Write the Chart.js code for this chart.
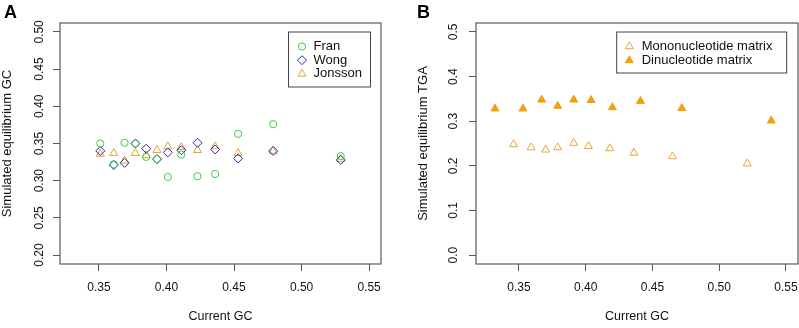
<!DOCTYPE html>
<html>
<head>
<meta charset="utf-8">
<script src="https://cdn.jsdelivr.net/npm/chart.js@4.4.1/dist/chart.umd.min.js"></script>
<style>
  body { margin: 0; background: #fff; }
  .panel { position: absolute; top: 0; height: 328px; }
  #panelA { left: 0; width: 400px; }
  #panelB { left: 400px; width: 399px; }
</style>
</head>
<body>
<div class="panel" id="panelA"><canvas id="chartA"></canvas></div>
<div class="panel" id="panelB"><canvas id="chartB"></canvas></div>
<script>
// Panel A: current vs simulated equilibrium GC
const currentGcA = [0.351, 0.361, 0.369, 0.377, 0.385, 0.393, 0.401, 0.411, 0.423, 0.436, 0.453, 0.479, 0.529];
const franGc    = [0.350, 0.322, 0.351, 0.350, 0.332, 0.329, 0.305, 0.335, 0.306, 0.309, 0.363, 0.376, 0.333];
const wongGc    = [0.340, 0.321, 0.324, 0.350, 0.343, 0.329, 0.338, 0.341, 0.351, 0.342, 0.330, 0.340, 0.328];
const jonssonGc = [0.336, 0.337, 0.327, 0.337, 0.334, 0.341, 0.346, 0.345, 0.341, 0.346, 0.337, 0.340, 0.329];

// Panel B: current GC vs simulated equilibrium TGA
const monoGc  = [0.346, 0.359, 0.370, 0.379, 0.391, 0.402, 0.418, 0.436, 0.465, 0.521];
const monoTga = [0.248, 0.241, 0.236, 0.241, 0.251, 0.244, 0.239, 0.229, 0.221, 0.205];
const diGc    = [0.332, 0.353, 0.367, 0.379, 0.391, 0.404, 0.420, 0.441, 0.472, 0.539];
const diTga   = [0.328, 0.328, 0.348, 0.334, 0.348, 0.347, 0.331, 0.345, 0.329, 0.301];

// tick labels
const xTicksA = [0.35, 0.40, 0.45, 0.50, 0.55];
const yTicksA = [0.20, 0.25, 0.30, 0.35, 0.40, 0.45, 0.50];
const xTicksB = [0.35, 0.40, 0.45, 0.50, 0.55];
const yTicksB = [0.0, 0.1, 0.2, 0.3, 0.4, 0.5];

const FONT = "'Liberation Sans', Arial, Helvetica, sans-serif";
const AXIS_GREY = '#5a5a5a';
Chart.defaults.font.family = FONT;
Chart.defaults.color = '#111';

function pts(xs, ys) {
  return xs.map((x, i) => ({ x: x, y: ys[i] }));
}

// box around plotting region, like R's box()
const frame = {
  id: 'frame',
  afterDraw(chart) {
    const { ctx, chartArea: a } = chart;
    ctx.save();
    ctx.strokeStyle = AXIS_GREY;
    ctx.lineWidth = 1.2;
    ctx.strokeRect(a.left, a.top, a.right - a.left, a.bottom - a.top);
    ctx.restore();
  }
};

// R style legend box in the top right corner
const boxLegend = {
  id: 'boxLegend',
  afterDraw(chart, args, o) {
    const { ctx, chartArea: a } = chart;
    const x0 = a.right - o.right - o.width;
    const y0 = a.top + o.top;
    ctx.save();
    ctx.fillStyle = '#fff';
    ctx.fillRect(x0, y0, o.width, o.height);
    ctx.strokeStyle = '#444';
    ctx.lineWidth = 1;
    ctx.strokeRect(x0, y0, o.width, o.height);
    ctx.font = '13px ' + FONT;
    ctx.textBaseline = 'middle';
    chart.data.datasets.forEach((ds, i) => {
      const y = y0 + o.firstRow + i * o.rowGap;
      ctx.fillStyle = ds.backgroundColor;
      ctx.strokeStyle = ds.borderColor;
      ctx.lineWidth = 1;
      Chart.helpers.drawPoint(ctx, { pointStyle: ds.pointStyle, radius: ds.pointRadius, borderWidth: 1, rotation: 0 }, x0 + o.markerX, y);
      ctx.fillStyle = '#111';
      ctx.fillText(ds.label, x0 + o.textX, y);
    });
    ctx.restore();
  }
};

// panel letter
const panelTag = {
  id: 'panelTag',
  afterDraw(chart, args, o) {
    const ctx = chart.ctx;
    ctx.save();
    ctx.font = 'bold 18px ' + FONT;
    ctx.fillStyle = '#000';
    ctx.textBaseline = 'alphabetic';
    ctx.fillText(o.text, o.x, o.y);
    ctx.restore();
  }
};

function axis(pos, min, max, tickList, digits, title, o) {
  const vertical = pos === 'left';
  return {
    type: 'linear',
    position: pos,
    min: min,
    max: max,
    afterBuildTicks: s => { s.ticks = tickList.map(v => ({ value: v })); },
    afterFit: s => {
      if (vertical) s.width = o.size; else s.height = o.size;
      s.paddingLeft = 0; s.paddingRight = 0; s.paddingTop = 0; s.paddingBottom = 0;
    },
    border: { display: false },
    grid: { drawOnChartArea: false, drawTicks: true, tickLength: 7, color: AXIS_GREY, lineWidth: 1 },
    ticks: {
      autoSkip: false,
      minRotation: vertical ? 90 : 0,
      maxRotation: vertical ? 90 : 0,
      crossAlign: vertical ? 'center' : 'near',
      padding: o.pad,
      color: '#111',
      font: { size: 12 },
      callback: v => v.toFixed(digits)
    },
    title: {
      display: true,
      text: title,
      color: '#111',
      font: { size: o.titleSize },
      padding: o.titlePad
    }
  };
}

new Chart(document.getElementById('chartA'), {
  type: 'scatter',
  data: {
    datasets: [
      { label: 'Fran', data: pts(currentGcA, franGc), pointStyle: 'circle', pointRadius: 3.6,
        borderColor: '#3fcc3f', backgroundColor: 'rgba(0,0,0,0)', borderWidth: 1 },
      { label: 'Wong', data: pts(currentGcA, wongGc), pointStyle: 'rectRot', pointRadius: 4.5,
        borderColor: '#2727b8', backgroundColor: 'rgba(0,0,0,0)', borderWidth: 1 },
      { label: 'Jonsson', data: pts(currentGcA, jonssonGc), pointStyle: 'triangle', pointRadius: 4.6,
        borderColor: '#e8a232', backgroundColor: 'rgba(0,0,0,0)', borderWidth: 1 }
    ]
  },
  options: {
    responsive: true,
    maintainAspectRatio: false,
    animation: false,
    layout: { autoPadding: false, padding: { top: 23, right: 19, left: 0, bottom: 0 } },
    plugins: {
      legend: { display: false },
      tooltip: { enabled: false },
      boxLegend: { right: 10.5, top: 9, width: 82, height: 55, firstRow: 14.5, rowGap: 13.7, markerX: 13.5, textX: 25 },
      panelTag: { text: 'A', x: 4, y: 18 }
    },
    scales: {
      x: axis('bottom', 0.3212, 0.5588, xTicksA, 2, 'Current GC', { size: 64, pad: 9, titleSize: 12.5, titlePad: { bottom: 3.5 } }),
      y: axis('left', 0.188, 0.512, yTicksA, 2, 'Simulated equilibrium GC', { size: 60, pad: 1.5, titleSize: 13, titlePad: { top: 0 } })
    }
  },
  plugins: [frame, boxLegend, panelTag]
});

new Chart(document.getElementById('chartB'), {
  type: 'scatter',
  data: {
    datasets: [
      { label: 'Mononucleotide matrix', data: pts(monoGc, monoTga), pointStyle: 'triangle', pointRadius: 4.6,
        borderColor: '#eaa633', backgroundColor: 'rgba(0,0,0,0)', borderWidth: 1 },
      { label: 'Dinucleotide matrix', data: pts(diGc, diTga), pointStyle: 'triangle', pointRadius: 4.6,
        borderColor: '#f2a00e', backgroundColor: '#f2a00e', borderWidth: 1 }
    ]
  },
  options: {
    responsive: true,
    maintainAspectRatio: false,
    animation: false,
    layout: { autoPadding: false, padding: { top: 23, right: 1, left: 0, bottom: 0 } },
    plugins: {
      legend: { display: false },
      tooltip: { enabled: false },
      boxLegend: { right: 11.3, top: 9, width: 170, height: 41, firstRow: 14.4, rowGap: 14, markerX: 12.6, textX: 25 },
      panelTag: { text: 'B', x: 17, y: 18 }
    },
    scales: {
      x: axis('bottom', 0.3178, 0.559, xTicksB, 2, 'Current GC', { size: 64, pad: 9, titleSize: 12.5, titlePad: { bottom: 3.5 } }),
      y: axis('left', -0.02, 0.52, yTicksB, 1, 'Simulated equilibrium TGA', { size: 76, pad: 6.7, titleSize: 13, titlePad: { top: 15.5 } })
    }
  },
  plugins: [frame, boxLegend, panelTag]
});
</script>
</body>
</html>
